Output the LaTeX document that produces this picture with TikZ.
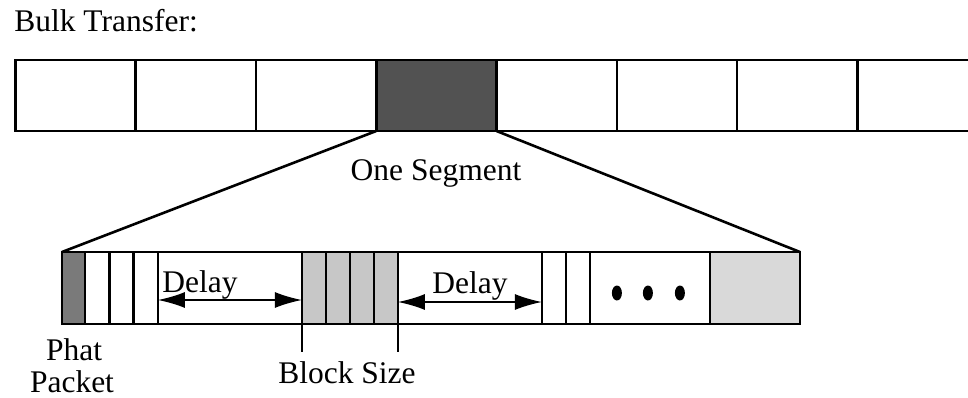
\documentclass[tikz,border=0pt]{standalone}
\usepackage{fontspec}
\setmainfont{Liberation Serif}
\usetikzlibrary{arrows.meta,
                positioning}

\begin{document}
\begin{tikzpicture}[x=1pt,y=-1pt,line width=2.6pt,
    font=\fontsize{31.5}{27}\selectfont,
    lbl/.style={inner sep=0pt,anchor=base},
    cell/.style={draw,inner sep=0pt,outer sep=0pt,minimum height=72pt},
    seg/.style={cell,minimum width=120.3pt,minimum height=71pt},
    thin/.style={cell,minimum width=24.3pt},
    dark/.style={fill=black!68},
    phatfill/.style={fill=black!52},
    light/.style={fill=black!22},
    pale/.style={fill=black!15},
    delay/.style={{Latex[length=27pt,width=16pt]}-{Latex[length=27pt,width=16pt]},line width=1.6pt}]
 \useasboundingbox (0,0) rectangle (968,398);
 \node[lbl,anchor=base west] (bulk) at (13,32) {Bulk Transfer:};
 % the whole transfer
 \foreach \i in {0,...,7}
   \node[seg] (seg\i) at (75.5+120.3*\i,95.5) {};
 \fill[dark] ([xshift=1.3pt,yshift=-1.3pt]seg3.north west) rectangle ([xshift=-1.3pt,yshift=1.3pt]seg3.south east);
 \node[lbl] (one) at (436,180) {One Segment};
 % one segment, blown up
 \node[cell,phatfill,minimum width=23pt] (phat) at (73.5,288) {};
 \node[thin,right=0pt of phat] (w1) {};
 \node[thin,right=0pt of w1] (w2) {};
 \node[thin,right=0pt of w2] (w3) {};
 \node[cell,minimum width=144pt,right=0pt of w3] (d1) {};
 \node[thin,light,minimum width=24pt,right=0pt of d1] (g1) {};
 \node[thin,light,minimum width=24pt,right=0pt of g1] (g2) {};
 \node[thin,light,minimum width=24pt,right=0pt of g2] (g3) {};
 \node[thin,light,minimum width=24pt,right=0pt of g3] (g4) {};
 \node[cell,minimum width=144pt,right=0pt of g4] (d2) {};
 \node[thin,minimum width=24pt,right=0pt of d2] (w4) {};
 \node[thin,minimum width=24pt,right=0pt of w4] (w5) {};
 \node[cell,minimum width=120pt,right=0pt of w5] (dots) {};
 \node[cell,pale,minimum width=90pt,right=0pt of dots] (rest) {};
 \foreach \dx in {-33,-2,30}
   \fill ([xshift=\dx pt,yshift=-5pt]dots.center) ellipse (5pt and 7.5pt);
 \draw (seg3.south west) -- (phat.north west);
 \draw (seg3.south east) -- (rest.north east);
 % delays
 \draw[delay] ([yshift=-12pt]d1.west) -- ([yshift=-12pt]d1.east);
 \draw[delay] ([yshift=-14pt]d2.west) -- ([yshift=-14pt]d2.east);
 \node[lbl] (delayA) at (200,292) {Delay};
 \node[lbl] (delayB) at (470,293) {Delay};
 % block size
 \coordinate (ta) at ([yshift=-28pt]g1.south west);
 \coordinate (tb) at ([yshift=-28pt]g4.south east);
 \draw (g1.south west) -- (ta);
 \draw (g4.south east) -- (tb);
 \node[lbl] (block) at (347,383) {Block Size};
 \node[lbl] (phatA) at (74,360) {Phat};
 \node[lbl] (phatB) at (72,392) {Packet};
\end{tikzpicture}
\end{document}
